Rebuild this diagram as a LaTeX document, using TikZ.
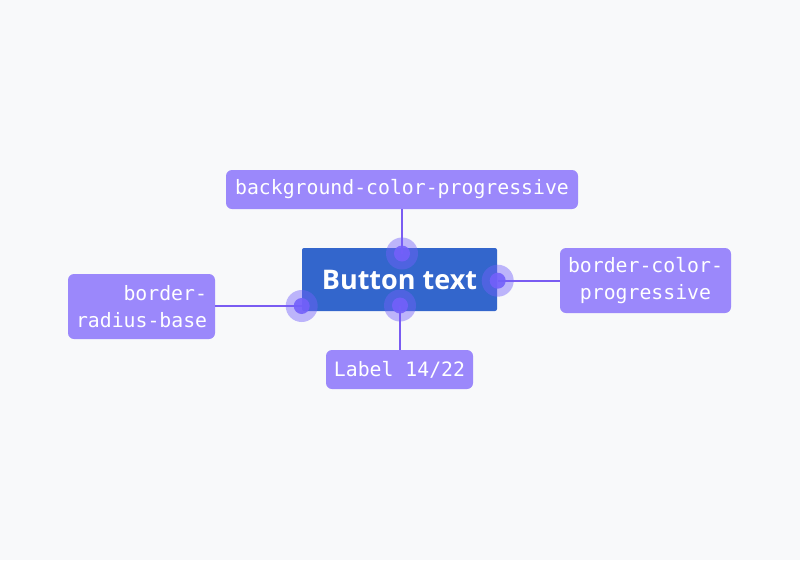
\documentclass[tikz,border=0pt]{standalone}
\usepackage{fontspec}
\setmainfont{Open Sans}
\setmonofont{DejaVu Sans Mono}
\definecolor{bg}{HTML}{F8F9FA}
\definecolor{boxc}{HTML}{9B88FB}
\definecolor{btn}{HTML}{3366CC}
\definecolor{linec}{HTML}{7A5CF2}
\definecolor{dotc}{HTML}{7360FA}
\tikzset{
  lbl/.style={fill=boxc, rounded corners=6pt, text=white, font=\ttfamily\fontsize{19.8}{26.5}\selectfont, inner sep=0pt},
  conn/.style={draw=linec, line width=2pt},
  halo/.style={circle, fill=dotc, fill opacity=0.45, minimum size=32pt, inner sep=0pt},
  core/.style={circle, fill=dotc, fill opacity=0.9, minimum size=16pt, inner sep=0pt}
}
\begin{document}
\begin{tikzpicture}[x=1pt,y=-1pt]
\fill[bg] (0,0) rectangle (800,560);
\useasboundingbox (0,0) rectangle (800,560);
% boxes
\node[lbl, minimum width=352pt, minimum height=39pt] (top) at (402,189.5) {background-color-progressive};
\node[lbl, minimum width=171pt, minimum height=65pt, align=center] (right) at (645.5,280.5) {border-color-\\progressive};
\node[lbl, minimum width=147pt, minimum height=65pt, text width=131pt, align=right] (left) at (141.5,306.5) {border-\\radius-base};
\node[lbl, minimum width=147pt, minimum height=39pt] (bottom) at (399.5,369.5) {Label 14/22};
\node[fill=btn, rounded corners=2pt, minimum width=195pt, minimum height=63pt, inner sep=0pt, text=white, font=\bfseries\fontsize{27}{34}\selectfont] (button) at (399.5,279.5) {Button text};
% marker positions
\coordinate (mt) at (402,253.5);
\coordinate (mr) at (497.7,280.7);
\coordinate (ml) at (301.7,306);
\coordinate (mb) at (400,305.5);
% connectors
\draw[conn] (top.south) -- (mt);
\draw[conn] (right.west |- mr) -- (mr);
\draw[conn] (left.east |- ml) -- (ml);
\draw[conn] (bottom.north -| mb) -- (mb);
% markers
\foreach \m in {mt,mr,ml,mb}{
  \node[halo] (\m h) at (\m) {};
  \node[core] (\m c) at (\m) {};
}
\end{tikzpicture}
\end{document}
